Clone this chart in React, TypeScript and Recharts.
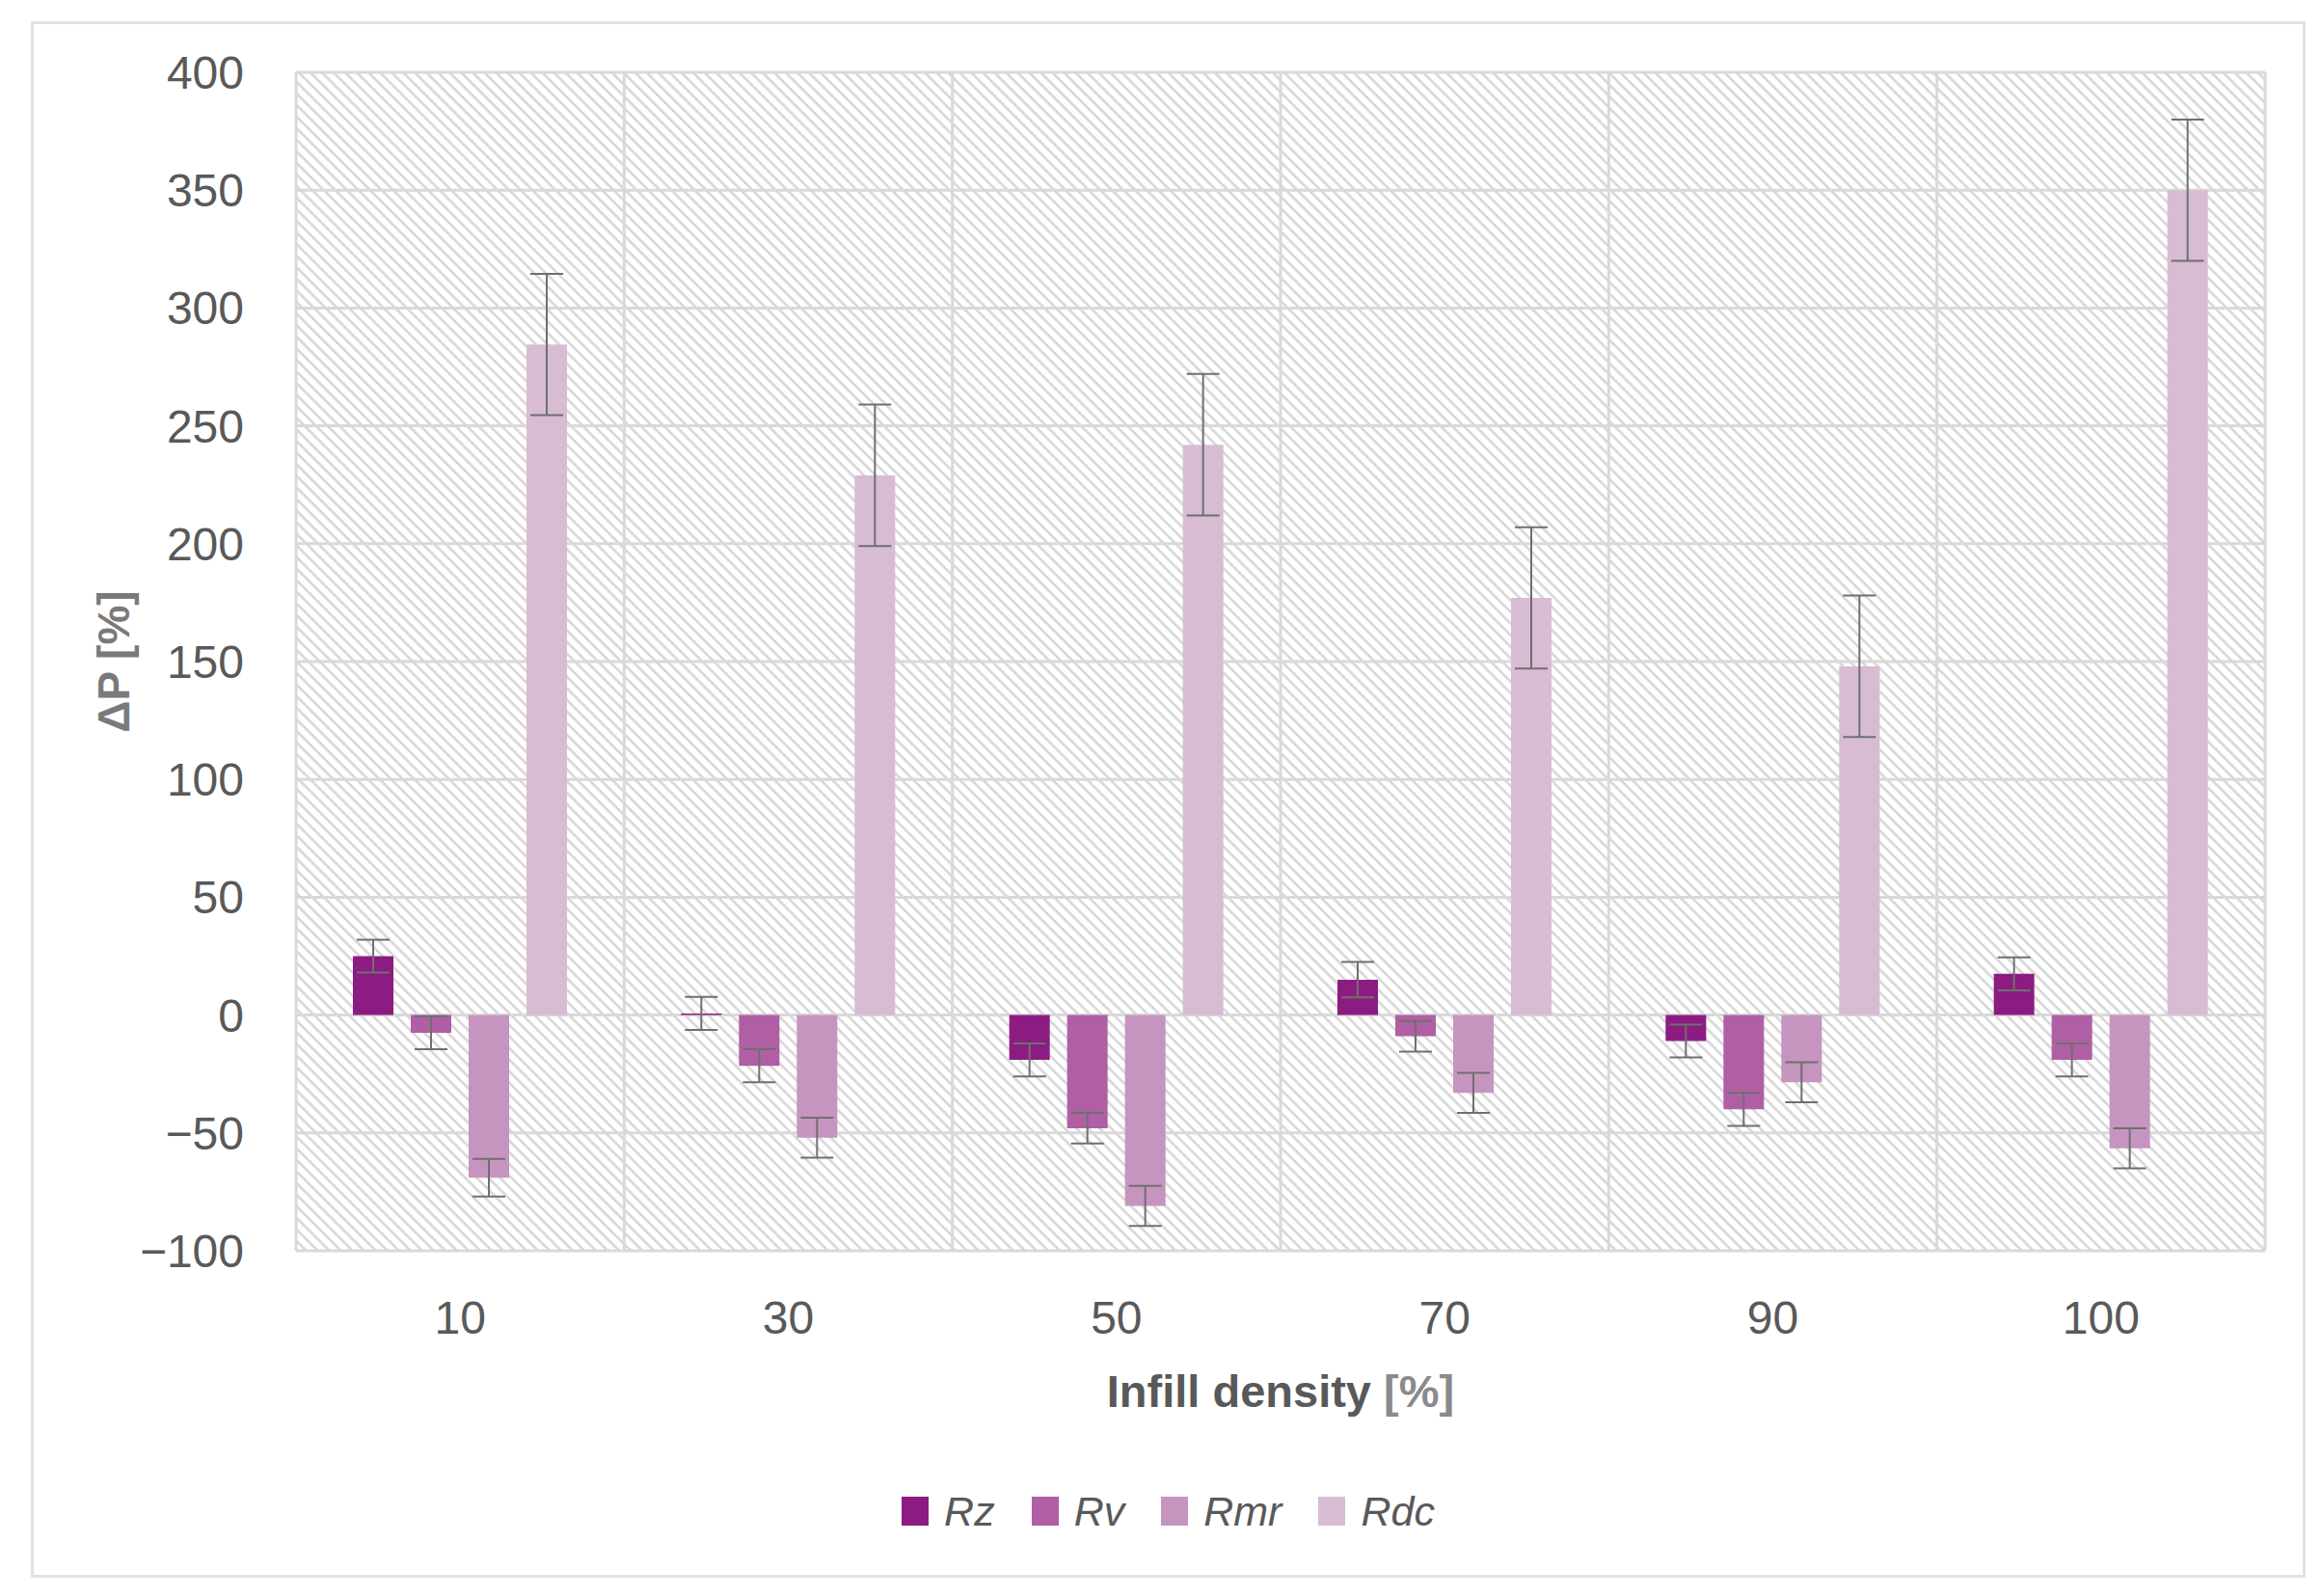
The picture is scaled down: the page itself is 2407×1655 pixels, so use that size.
import React from 'react';
import { BarChart, Bar, XAxis, YAxis, CartesianGrid, ErrorBar, Legend, Label } from 'recharts';

// infill density categories
const densities = ['10', '30', '50', '70', '90', '100'];

// relative change of each roughness parameter [%]
const rzValues = [25, 0.7, -19, 15, -11, 17.5];
const rvValues = [-7.5, -21.5, -48, -9, -40, -19];
const rmrValues = [-69, -52, -81, -33, -28.5, -56.5];
const rdcValues = [284.5, 229, 242, 177, 148, 350];

// standard deviations
const rzErrors = [7, 7, 7, 7.5, 7, 7];
const rvErrors = [7, 7, 6.5, 6.5, 7, 7];
const rmrErrors = [8, 8.5, 8.5, 8.5, 8.5, 8.5];
const rdcErrors = [30, 30, 30, 30, 30, 30];

const yTicks = [-100, -50, 0, 50, 100, 150, 200, 250, 300, 350, 400];

const seriesNames = ['Rz', 'Rv', 'Rmr', 'Rdc'];
const seriesColors = ['#8c1c81', '#b05fa5', '#c595bf', '#d8bcd3'];

const data = densities.map((d, i) => ({
  density: d,
  rz: rzValues[i],
  rzErr: rzErrors[i],
  rv: rvValues[i],
  rvErr: rvErrors[i],
  rmr: rmrValues[i],
  rmrErr: rmrErrors[i],
  rdc: rdcValues[i],
  rdcErr: rdcErrors[i],
}));

const FONT = "'Liberation Sans', Arial, sans-serif";
const TEXT = '#595959';
const GRID = '#d9d9d9';
const ERR = '#6f6f6f';

const fmt = (v: number) => String(v).replace('-', '\u2212');

// vertical grid lines sit on the band edges of the category axis
const bandEdgeLines = ({ offset }: any) => {
  const step = offset.width / densities.length;
  return [...densities.map((_, i) => offset.left + i * step), offset.left + offset.width];
};

const XTitle = (props: any) => {
  const { x, y, width } = props.viewBox;
  return (
    <text x={x + width / 2} y={y + 162} textAnchor="middle" fontFamily={FONT} fontSize={47} fontWeight="bold" fill={TEXT}>
      <tspan>Infill density </tspan>
      <tspan fill="#8a8a8a">[%]</tspan>
    </text>
  );
};

const YTitle = () => {
  const cx = 117;
  const cy = 686;
  return (
    <text
      x={cx}
      y={cy}
      dy="0.36em"
      transform={`rotate(-90 ${cx} ${cy})`}
      textAnchor="middle"
      fontFamily={FONT}
      fontSize={46}
      fontWeight="bold"
      fill="#7a7a7a"
    >
      ΔP [%]
    </text>
  );
};

const LegendContent = (props: any) => {
  const items = [...(props.payload || [])].sort(
    (a: any, b: any) => seriesNames.indexOf(a.value) - seriesNames.indexOf(b.value)
  );
  return (
    <div style={{ display: 'flex', justifyContent: 'center', alignItems: 'center', gap: 38, fontFamily: FONT }}>
      {items.map((entry: any) => (
        <div key={entry.value} style={{ display: 'flex', alignItems: 'center' }}>
          <div style={{ width: 28, height: 30, background: entry.color, marginRight: 16 }} />
          <span style={{ fontSize: 43, fontStyle: 'italic', color: TEXT, lineHeight: '44px' }}>{entry.value}</span>
        </div>
      ))}
    </div>
  );
};

const App = () => {
  const keys = ['rz', 'rv', 'rmr', 'rdc'];
  return (
    <div style={{ position: 'absolute', left: 0, top: 0, width: 2407, height: 1655, background: '#fff' }}>
      <div
        style={{
          position: 'absolute',
          left: 32,
          top: 22,
          width: 2359,
          height: 1614,
          border: '3px solid #e2e2e2',
          boxSizing: 'border-box',
        }}
      />
      <div style={{ position: 'absolute', left: 0, top: 0 }}>
        <BarChart
          width={2407}
          height={1655}
          data={data}
          margin={{ top: 75, right: 58, left: 0, bottom: 0 }}
          barSize={42}
          barGap={18}
        >
          <defs>
            <pattern id="hatch" width="8.5" height="8.5" patternUnits="userSpaceOnUse" patternTransform="rotate(45)">
              <rect width="8.5" height="8.5" fill="#ffffff" />
              <line x1="0" y1="4" x2="8.5" y2="4" stroke="#d6d6d6" strokeWidth="2.6" />
            </pattern>
          </defs>
          <CartesianGrid
            stroke={GRID}
            strokeWidth={3}
            fill="url(#hatch)"
            fillOpacity={1}
            verticalCoordinatesGenerator={bandEdgeLines}
          />
          <XAxis
            dataKey="density"
            height={358}
            axisLine={false}
            tickLine={false}
            tickSize={0}
            tickMargin={52}
            tick={{ fill: TEXT, fontSize: 48, fontFamily: FONT }}
          >
            <Label content={XTitle} />
          </XAxis>
          <YAxis
            width={307}
            domain={[-100, 400]}
            ticks={yTicks}
            interval={0}
            axisLine={false}
            tickLine={false}
            tickSize={0}
            tickMargin={54}
            tickFormatter={fmt}
            tick={{ fill: TEXT, fontSize: 48, fontFamily: FONT }}
          >
            <Label content={YTitle} />
          </YAxis>
          <Legend
            layout="horizontal"
            verticalAlign="middle"
            align="center"
            content={LegendContent}
            wrapperStyle={{ top: 1545, left: 32, width: 2359 }}
          />
          {keys.map((k, i) => (
            <Bar key={k} dataKey={k} name={seriesNames[i]} fill={seriesColors[i]} isAnimationActive={false}>
              <ErrorBar dataKey={`${k}Err`} direction="y" width={17} stroke={ERR} strokeWidth={2} isAnimationActive={false} />
            </Bar>
          ))}
        </BarChart>
      </div>
    </div>
  );
};

export default App;
